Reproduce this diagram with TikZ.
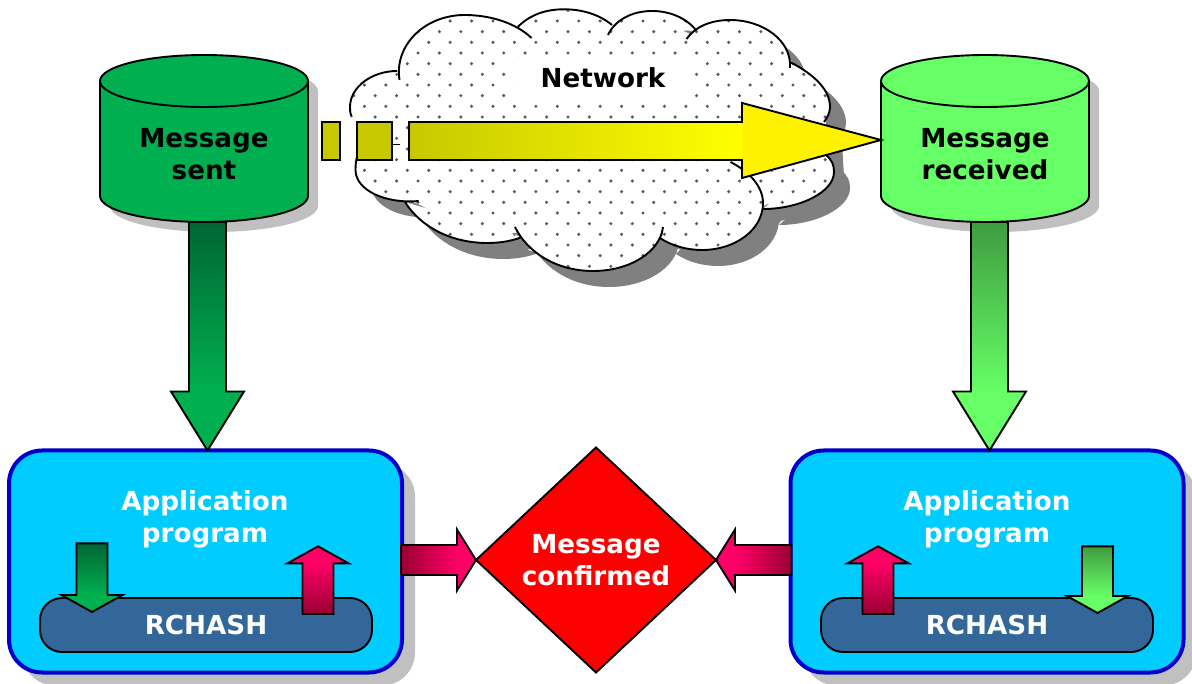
\documentclass[tikz,border=0pt]{standalone}
\usepackage{fontspec}
\setmainfont{DejaVu Sans}
\usetikzlibrary{shapes.geometric,calc}
\definecolor{sentgreen}{HTML}{00B050}
\definecolor{sentdark}{HTML}{006633}
\definecolor{recvgreen}{HTML}{66FF66}
\definecolor{recvdark}{HTML}{3E9C40}
\definecolor{olivey}{HTML}{C8C800}
\definecolor{hot}{HTML}{FF0066}
\definecolor{hotdark}{HTML}{990033}
\definecolor{boxfill}{HTML}{00CCFF}
\definecolor{boxline}{HTML}{0000CC}
\definecolor{pill}{HTML}{336699}
\definecolor{lightshadow}{HTML}{C0C0C0}
\definecolor{darkshadow}{HTML}{808080}
\newcommand{\cloudlobes}{
  (399.5,80) .. controls (394,45) and (425,15) .. (464.6,15) .. controls (492,15) and (517,24) .. (531.5,38)
  (518,26.7) .. controls (530,15) and (545,9.3) .. (564,9.3) .. controls (583,9.3) and (600,15) .. (612,25)
  (608,35) .. controls (615,20) and (632,11) .. (652,11) .. controls (670,11) and (686,18) .. (696,30)
  (686.5,39) .. controls (695,27) and (710,20) .. (730.5,20) .. controls (762,20) and (792,40) .. (790,68)
  (790,62) .. controls (815,75) and (830,90) .. (830,107) .. controls (830,113) and (827,118) .. (824,122)
  (826,155) .. controls (832,160) and (834,165) .. (834,172) .. controls (834,192) and (800,209) .. (763,209)
  (730.5,162) .. controls (750,172) and (763,187) .. (763,203) .. controls (763,230) and (735,250) .. (702,250) .. controls (687,250) and (672,246) .. (660,238)
  (663,227) .. controls (660,252) and (630,271) .. (593,271) .. controls (556,271) and (527,252) .. (515,227)
  (522,237) .. controls (512,241) and (500,243) .. (487.5,243) .. controls (450,243) and (420,226) .. (405,202)
  (418.6,201) .. controls (385,204) and (355.5,190) .. (355.5,170) .. controls (355.5,165) and (356,160) .. (357,157)
  (351.7,117) .. controls (350,113) and (350,110) .. (350,107) .. controls (350,87) and (372,71) .. (397,71)
}
\newcommand{\cloudcore}{
  (395,75) -- (420,40) -- (464,20) -- (520,35) -- (564,15) -- (610,30) -- (652,16) -- (692,35)
  -- (730,25) -- (785,55) -- (815,85) -- (825,110) -- (828,160) -- (820,185) -- (765,205) -- (752,222)
  -- (700,245) -- (660,232) -- (593,265) -- (520,232) -- (487,238) -- (420,205) -- (368,182)
  -- (360,157) -- (355,110) -- cycle
}
% start, tip, half body, half head, head length, body shading, head colour
\newcommand{\blockarrow}[7]{
  \coordinate (ab) at ($(#2)!#5!(#1)$);
  \fill[#7] ($(ab)!#4!90:(#2)$) -- (#2) -- ($(ab)!#4!-90:(#2)$) -- cycle;
  \shade[#6] ($(#1)!#3!90:(#2)$) -- ($(ab)!#3!90:(#2)$) -- ($(ab)!#3!-90:(#2)$) -- ($(#1)!#3!-90:(#2)$) -- cycle;
  \path[arrowline]
    ($(#1)!#3!90:(#2)$) -- ($(ab)!#3!90:(#2)$) -- ($(ab)!#4!90:(#2)$) -- (#2)
    -- ($(ab)!#4!-90:(#2)$) -- ($(ab)!#3!-90:(#2)$) -- ($(#1)!#3!-90:(#2)$) -- cycle;
}
% outline of a can centred on a node or coordinate
\newcommand{\canbody}[2]{
  \begin{scope}[shift={(#1)}]
  \path[#2] (-104,-57.5) -- (-104,57.5) .. controls (-104,71.86) and (-57.4,83.5) .. (0,83.5)
    .. controls (57.4,83.5) and (104,71.86) .. (104,57.5) -- (104,-57.5)
    .. controls (104,-71.86) and (57.4,-83.5) .. (0,-83.5)
    .. controls (-57.4,-83.5) and (-104,-71.86) .. (-104,-57.5) -- cycle;
  \end{scope}
}
\newcommand{\canrim}[1]{
  \begin{scope}[shift={(#1)}]
  \draw[line width=1.9pt] (-104,-57.5) .. controls (-104,-43.14) and (-57.4,-31.5) .. (0,-31.5)
    .. controls (57.4,-31.5) and (104,-43.14) .. (104,-57.5);
  \end{scope}
}
\tikzset{
  x=1pt,y=-1pt,
  arrowline/.style={draw=black,line width=1.9pt,line join=miter},
  canbox/.style={shape=rectangle,minimum width=208pt,minimum height=167pt,inner sep=0pt,outer sep=0pt},
  roundbox/.style={shape=rectangle,rounded corners=33pt,minimum width=393pt,minimum height=222pt,inner sep=0pt,outer sep=0pt},
  pillbox/.style={shape=rectangle,rounded corners=22pt,minimum width=332pt,minimum height=54pt,draw=black,line width=1.9pt,fill=pill,inner sep=0pt,outer sep=0pt,text=white,labeltext},
  labeltext/.style={font=\fontsize{26.2}{32}\selectfont\bfseries,align=center},
  white label/.style={labeltext,text=white},
  dark down/.style={top color=sentdark,bottom color=sentgreen},
  light down/.style={top color=recvdark,bottom color=recvgreen},
  hot up/.style={bottom color=hotdark,top color=hot},
  hot right/.style={left color=hotdark,right color=hot},
  hot left/.style={right color=hotdark,left color=hot},
}
\begin{document}
\begin{tikzpicture}
\useasboundingbox (0,0) rectangle (1192,684);
% named places
\node[canbox] (sent) at (204,138.5) {};
\node[canbox] (recv) at (985,138.5) {};
\coordinate (sentshadow) at (214,148.5);
\coordinate (recvshadow) at (995,148.5);
% shadows
\canbody{sentshadow}{fill=lightshadow}
\canbody{recvshadow}{fill=lightshadow}
\node[roundbox,fill=lightshadow] at (218.5,574.5) {};
\node[roundbox,fill=lightshadow] at (1000,574.5) {};
\begin{scope}[shift={(16,16)}]
  \fill[darkshadow] \cloudlobes \cloudcore;
\end{scope}
% cans
\canbody{sent}{draw=black,line width=1.9pt,fill=sentgreen}
\canrim{sent}
\canbody{recv}{draw=black,line width=1.9pt,fill=recvgreen}
\canrim{recv}
\node[labeltext] (sentlabel) at (204,154) {Message\\sent};
\node[labeltext] (recvlabel) at (985,154) {Message\\received};
% cloud
\fill[white] \cloudlobes \cloudcore;
\begin{scope}
  \clip \cloudlobes \cloudcore;
  \foreach \i in {0,...,25}{
    \foreach \k in {0,...,24}{
      \fill[black!65] ({343+21.43*\k+10.71*(1-mod(\i,2))},{10.33+10.667*\i}) circle (1.7pt);
    }
  }
\end{scope}
\draw[line width=1.9pt] \cloudlobes;
\node[labeltext,fill=white,minimum width=180pt,minimum height=42pt,inner sep=0pt] (net) at (603,78) {Network};
% boxes
\node[roundbox,draw=boxline,line width=4pt,fill=boxfill] (app1) at (205.5,561.5) {};
\node[roundbox,draw=boxline,line width=4pt,fill=boxfill] (app2) at (987,561.5) {};
\node[white label] (app1label) at (205,519) {Application\\program};
\node[white label] (app2label) at (987,519) {Application\\program};
\node[pillbox] (hash1) at (206,625) {RCHASH};
\node[pillbox] (hash2) at (987,625) {RCHASH};
% diamond
\node[shape=diamond,draw=black,line width=1.9pt,fill=red,minimum width=240pt,minimum height=225pt,aspect=1.067,inner sep=0pt,outer sep=0pt,white label] (conf) at (596,560) {Message\\confirmed};
% vertical connectors
\coordinate (s1) at ($(sent.south)+(3.5,0)$);
\coordinate (s2) at ($(app1.north)+(2,0)$);
\coordinate (r1) at ($(recv.south)+(4.5,0)$);
\coordinate (r2) at ($(app2.north)+(2.5,0)$);
\blockarrow{s1}{s2}{18.5pt}{36.5pt}{59pt}{dark down}{sentgreen}
\blockarrow{r1}{r2}{18.5pt}{36.5pt}{59pt}{light down}{recvgreen}
% horizontal connectors
\coordinate (h1) at ($(app1.east)+(-1,-1.5)$);
\coordinate (h2) at ($(app2.west)+(1,-1.5)$);
\blockarrow{h1}{conf.west}{15pt}{30.5pt}{19pt}{hot right}{hot}
\blockarrow{h2}{conf.east}{15pt}{30.5pt}{19pt}{hot left}{hot}
% small arrows
\coordinate (d1a) at ($(app1label.south)+(-113,-8)$);
\coordinate (d1b) at ($(hash1.north)+(-114,14)$);
\blockarrow{d1a}{d1b}{15.5pt}{30.5pt}{17pt}{dark down}{sentgreen}
\coordinate (u1a) at ($(hash1.north)+(112,16)$);
\coordinate (u1b) at ($(app1label.south)+(113,-5)$);
\blockarrow{u1a}{u1b}{15.5pt}{30.5pt}{17pt}{hot up}{hot}
\coordinate (u2a) at ($(hash2.north)+(-109,16)$);
\coordinate (u2b) at ($(app2label.south)+(-109,-5)$);
\blockarrow{u2a}{u2b}{15.5pt}{30.5pt}{17pt}{hot up}{hot}
\coordinate (d2a) at ($(app2label.south)+(110.5,-5)$);
\coordinate (d2b) at ($(hash2.north)+(110.5,15)$);
\blockarrow{d2a}{d2b}{15.5pt}{30.5pt}{17pt}{light down}{recvgreen}
% network arrow
\coordinate (n1) at (322,122);
\coordinate (n2) at ($(recv.west)+(0,1.5)$);
\fill[yellow] (742,103) -- (n2) -- (742,178) -- cycle;
\shade[left color=olivey,right color=yellow] (409,122) rectangle (742,160);
\path[arrowline] (409,122) -- (742,122) -- (742,103) -- (n2) -- (742,178) -- (742,160) -- (409,160) -- cycle;
\path[arrowline,fill=olivey] (n1) rectangle (340,160);
\path[arrowline,fill=olivey] (357,122) rectangle (392,160);
\draw[line width=1.2pt] (392,144.5) -- (399.5,144.5);
\end{tikzpicture}
\end{document}
